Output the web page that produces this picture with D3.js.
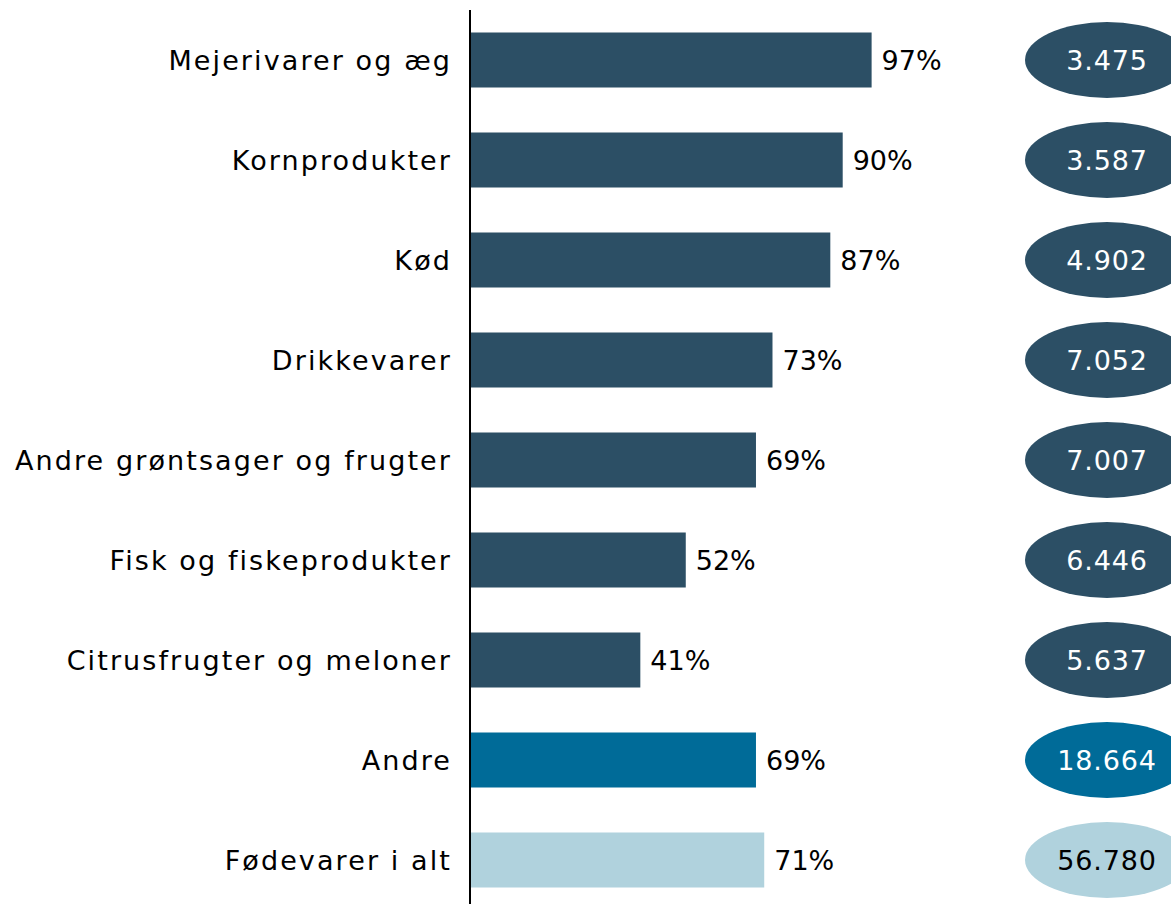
<!DOCTYPE html>
<html lang="da">
<head>
<meta charset="UTF-8">
<title>Fødevarer</title>
<script src="https://d3js.org/d3.v7.min.js"></script>
<style>
  body { margin: 0; background: #fff; }
  svg { display: block; font-family: "DejaVu Sans", sans-serif; }
</style>
</head>
<body>
<div id="chart"></div>
<script>
const categories = ["Mejerivarer og æg", "Kornprodukter", "Kød", "Drikkevarer",
  "Andre grøntsager og frugter", "Fisk og fiskeprodukter", "Citrusfrugter og meloner",
  "Andre", "Fødevarer i alt"];
const shares = [0.97, 0.90, 0.87, 0.73, 0.69, 0.52, 0.41, 0.69, 0.71];
const counts = ["3.475", "3.587", "4.902", "7.052", "7.007", "6.446", "5.637", "18.664", "56.780"];
const groups = ["kat", "kat", "kat", "kat", "kat", "kat", "kat", "andre", "total"];

const width = 1171, height = 904;
const colors = { kat: "#2c4f65", andre: "#006b98", total: "#b0d2dd" };
const textColors = { kat: "#fff", andre: "#fff", total: "#000" };

const data = categories.map((c, i) => ({ cat: c, share: shares[i], count: counts[i], group: groups[i] }));

const svg = d3.select("#chart").append("svg")
  .attr("width", width).attr("height", height);

const y = d3.scaleBand().domain(categories).range([10, 910]).paddingInner(0.45).paddingOuter(0.225);
const x = d3.scaleLinear().domain([0, 1]).range([471, 884]);

// bars
svg.selectAll(".bar").data(data).join("rect")
  .attr("x", x(0))
  .attr("y", d => y(d.cat))
  .attr("width", d => x(d.share) - x(0))
  .attr("height", y.bandwidth())
  .attr("fill", d => colors[d.group]);

// axis line
svg.append("line")
  .attr("x1", 470).attr("x2", 470)
  .attr("y1", 10).attr("y2", height)
  .attr("stroke", "#000").attr("stroke-width", 2);

const mid = d => y(d.cat) + y.bandwidth() / 2;

// category labels
svg.selectAll(".lbl").data(data).join("text")
  .attr("x", 452).attr("y", mid)
  .attr("dy", "0.36em")
  .attr("text-anchor", "end")
  .attr("font-size", 27)
  .attr("letter-spacing", 2.1)
  .attr("fill", "#000")
  .text(d => d.cat);

// percent labels
svg.selectAll(".pct").data(data).join("text")
  .attr("x", d => x(d.share) + 10).attr("y", mid)
  .attr("dy", "0.36em")
  .attr("font-size", 27)
  .attr("fill", "#000")
  .text(d => d3.format(".0%")(d.share));

// count ellipses
svg.selectAll(".ell").data(data).join("ellipse")
  .attr("cx", 1107).attr("cy", mid)
  .attr("rx", 82).attr("ry", 38)
  .attr("fill", d => colors[d.group]);

svg.selectAll(".cnt").data(data).join("text")
  .attr("x", 1107).attr("y", mid)
  .attr("dy", "0.36em")
  .attr("text-anchor", "middle")
  .attr("font-size", 27)
  .attr("letter-spacing", 0.8)
  .attr("fill", d => textColors[d.group])
  .text(d => d.count);
</script>
</body>
</html>
